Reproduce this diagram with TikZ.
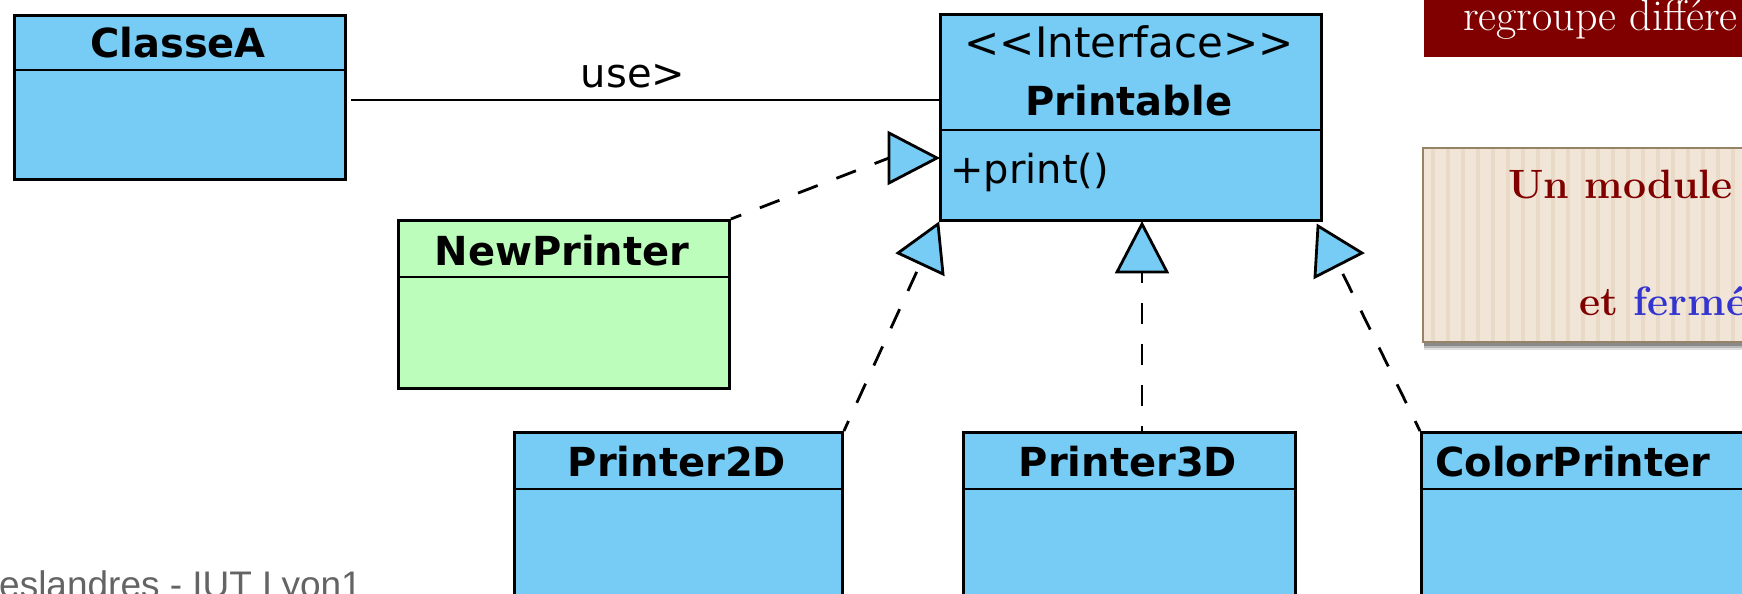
\documentclass[tikz,border=0pt]{standalone}
\usepackage{fontspec}
\newfontfamily\umlfont{DejaVu Sans}
\newfontfamily\footfont{Liberation Sans}
\usetikzlibrary{calc}

\definecolor{classblue}{RGB}{118,204,245}
\definecolor{classgreen}{RGB}{188,253,187}
\definecolor{slidered}{RGB}{128,0,0}
\definecolor{notebg}{RGB}{241,229,216}
\definecolor{notestripe}{RGB}{233,218,200}
\definecolor{noteborder}{RGB}{150,130,100}
\definecolor{noteblue}{RGB}{52,52,206}
\definecolor{footgray}{RGB}{100,100,100}

\tikzset{
  classbox/.style={draw=black, line width=2.9pt, inner sep=0pt, anchor=north west, fill=classblue},
  divider/.style={draw=black, line width=2.9pt},
  umltitle/.style={inner sep=0pt, anchor=base, font=\umlfont\bfseries\fontsize{40}{48}\selectfont},
  umltext/.style={inner sep=0pt, font=\umlfont\fontsize{40}{48}\selectfont},
  assoc/.style={draw=black, line width=2.8pt},
  realize/.style={draw=black, line width=2.8pt, dash pattern=on 21pt off 20pt, dash phase=10pt},
  realtip/.style={draw=black, line width=2.8pt, fill=classblue, line join=miter},
  notetext/.style={inner sep=0pt, anchor=base west, text=slidered, font=\bfseries\fontsize{41}{48}\selectfont},
}

\begin{document}
\begin{tikzpicture}[x=1pt, y=-1pt]
\useasboundingbox (0,0) rectangle (1742,594);
\clip (0,0) rectangle (1742,594);

% ---- class boxes ----
\node[classbox, minimum width=331pt, minimum height=164pt] (A) at (13,14) {};
\draw[divider] (13,70) -- (344,70);
\node[umltitle] (At) at (178,58) {ClasseA};

\node[classbox, minimum width=381pt, minimum height=206pt] (P) at (939,13) {};
\draw[divider] (939,130) -- (1320,130);
\node[umltext, anchor=base, font=\umlfont\fontsize{42}{48}\selectfont] (Ps) at (1129,58) {<<Interface>>};
\node[umltitle] (Pt) at (1129,115) {Printable};
\node[umltext, anchor=base west] (Pm) at (950,183) {+print()};

\node[classbox, fill=classgreen, minimum width=331pt, minimum height=168pt] (NP) at (397,219) {};
\draw[divider] (397,277) -- (728,277);
\node[umltitle] (NPt) at (562,265) {NewPrinter};

\node[classbox, minimum width=328pt, minimum height=200pt] (P2) at (513,431) {};
\draw[divider] (513,489) -- (841,489);
\node[umltitle] (P2t) at (677,476) {Printer2D};

\node[classbox, minimum width=332pt, minimum height=200pt] (P3) at (962,431) {};
\draw[divider] (962,489) -- (1294,489);
\node[umltitle] (P3t) at (1128,476) {Printer3D};

\node[classbox, minimum width=360pt, minimum height=200pt] (CP) at (1420,431) {};
\draw[divider] (1420,489) -- (1780,489);
\node[umltitle, anchor=base west] (CPt) at (1435,476) {ColorPrinter};

% ---- association ClasseA -> Printable ----
\coordinate (uline) at (0,100);
\draw[assoc] ([xshift=4pt]A.east |- uline) -- (P.west |- uline);
\node[umltext, anchor=base] (use) at (633,87) {use>};

% ---- realization arrows ----
\coordinate (r1tip) at (937,158);
\coordinate (r1a) at (889,133);
\coordinate (r1b) at (889,183);
\coordinate (r1base) at (889,158);

\coordinate (r2tip) at (938,224);
\coordinate (r2a) at (898,253);
\coordinate (r2b) at (943,274);
\coordinate (r2base) at (920.5,263.5);

\coordinate (r3tip) at (1142,224);
\coordinate (r3a) at (1117,272);
\coordinate (r3b) at (1167,272);
\coordinate (r3base) at (1142,272);

\coordinate (r4tip) at (1318,226);
\coordinate (r4a) at (1362,253);
\coordinate (r4b) at (1315,277);
\coordinate (r4base) at (1338.5,265);

\draw[realize] (NP.north east) -- (r1base);
\draw[realize] (P2.north east) -- (r2base);
\draw[realize] (r3base) -- (P3.north -| r3base);
\draw[realize] (CP.north west) -- (r4base);

\draw[realtip] (r1tip) -- (r1a) -- (r1b) -- cycle;
\draw[realtip] (r2tip) -- (r2a) -- (r2b) -- cycle;
\draw[realtip] (r3tip) -- (r3a) -- (r3b) -- cycle;
\draw[realtip] (r4tip) -- (r4a) -- (r4b) -- cycle;

% ---- slide title band ----
\fill[slidered] (1424,-10) rectangle (1760,57);
\node[inner sep=0pt, anchor=base west, text=white, font=\fontsize{44}{48}\selectfont] (band) at (1463,31) {regroupe différe};

% ---- note box with soft shadow ----
\fill[black, opacity=0.12] (1424,150) rectangle (1766,350);
\fill[black, opacity=0.18] (1424,150) rectangle (1764,348);
\fill[black, opacity=0.25] (1424,150) rectangle (1762,346);
\fill[notebg] (1423,148) rectangle (1760,342);
\foreach \sx in {1433,1448,...,1745} {
  \draw[notestripe, line width=4pt] (\sx,149) -- (\sx,341);
}
\draw[noteborder, line width=2pt] (1423,148) rectangle (1760,342);
\node[notetext] (n1) at (1508,198) {Un module};
\node[notetext] (n2) at (1579,315) {et \textcolor{noteblue}{fermé}};

% ---- footer ----
\node[inner sep=0pt, anchor=base west, text=footgray, font=\footfont\fontsize{37}{40}\selectfont] (foot) at (-1,597) {eslandres - IUT Lyon1};
\end{tikzpicture}
\end{document}
